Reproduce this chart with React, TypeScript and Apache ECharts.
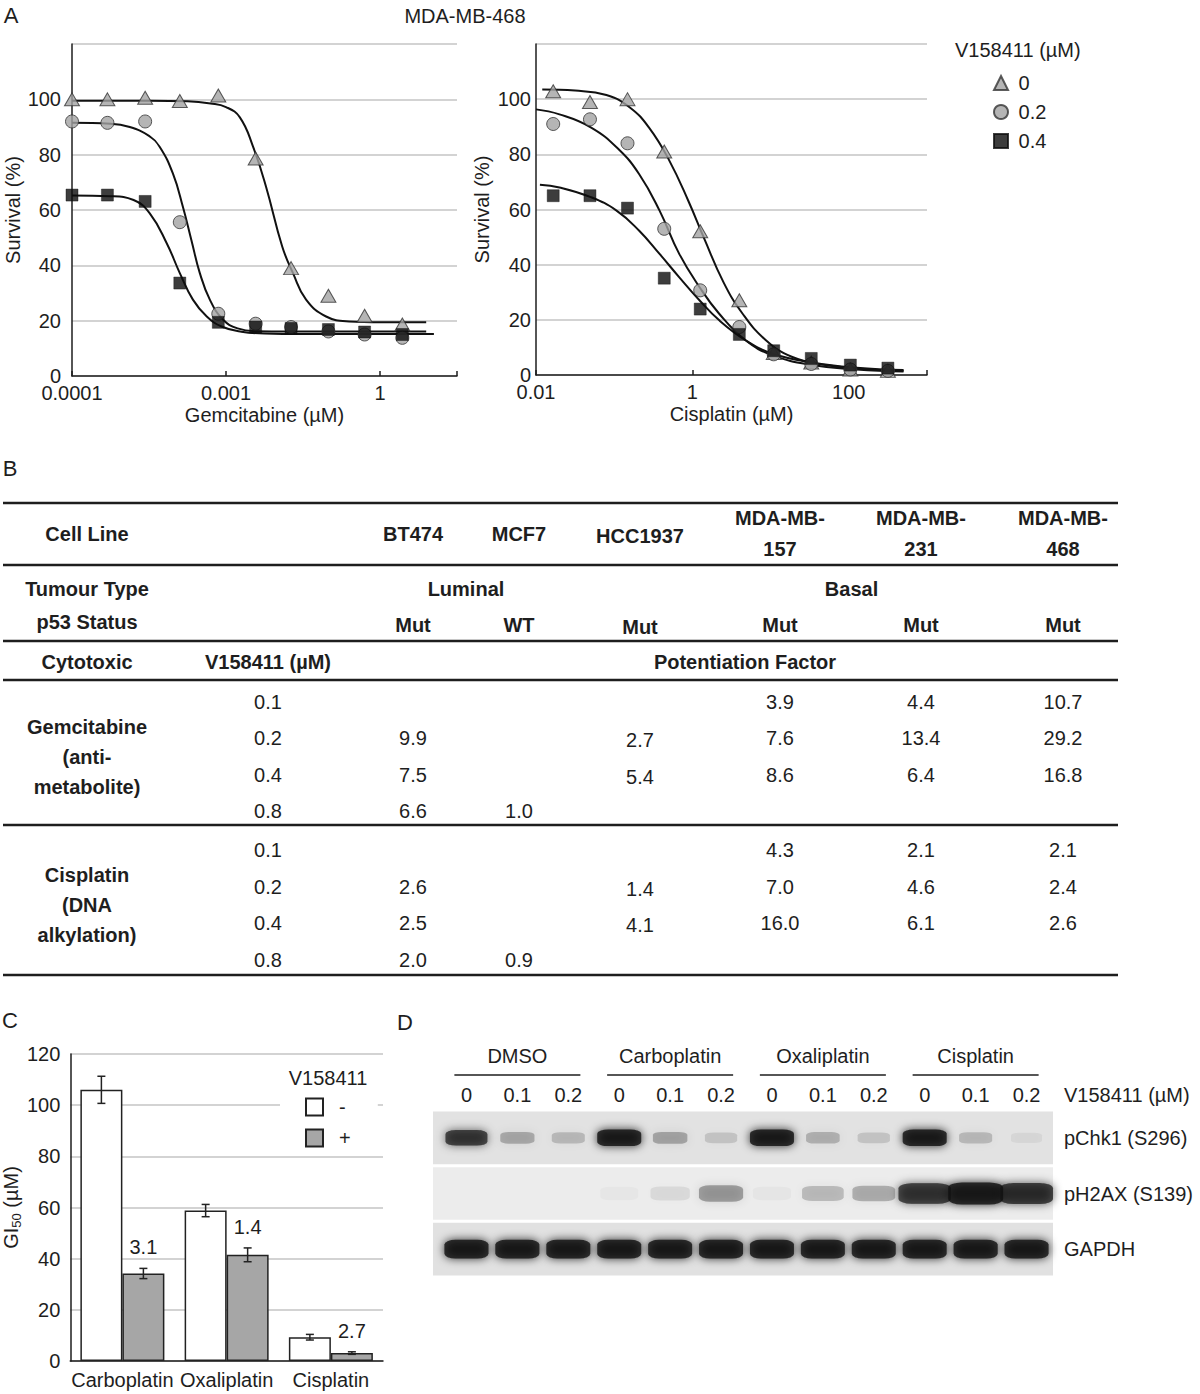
import React, { useEffect, useRef } from 'react';
import * as echarts from 'echarts';

const FONT = '"Liberation Sans", Arial, Helvetica, sans-serif';
const INK = '#1e1e1e';
const GRID_GRAY = '#c4c4c4';
const MARKER_GRAY = '#a2a2a2';

// ---------------- Panel A : MDA-MB-468 survival curves ----------------
const panelATitle = 'MDA-MB-468';
const doseLegendTitle = 'V158411 (µM)';
const doseLevels = ['0', '0.2', '0.4'];
const survivalName = 'Survival (%)';

// tick positions are log10 units on the drawn axis
const gemTickValues = [-4, -2, 0];
const gemTickLabels = ['0.0001', '0.001', '1'];
const cisTickValues = [-2, 0, 2];
const cisTickLabels = ['0.01', '1', '100'];

const gemLogDose = [-4.0, -3.54, -3.05, -2.6, -2.1, -1.615, -1.155, -0.67, -0.2, 0.29];
const gemSurv0 = [100, 100, 100.6, 99.4, 101.4, 78.6, 39, 29, 21.8, 18.6];
const gemSurv02 = [92, 91.5, 92, 55.6, 22.5, 18.9, 17.7, 16.1, 15, 13.8];
const gemSurv04 = [65.4, 65.4, 63.1, 33.6, 19.4, 17.7, 17.2, 16.8, 15.9, 15];

const cisLogDose = [-1.78, -1.31, -0.83, -0.36, 0.1, 0.6, 1.04, 1.52, 2.02, 2.5];
const cisSurv0 = [102.9, 99, 100, 81, 52.1, 27.1, 8, 4.5, 2, 1.5];
const cisSurv02 = [91, 92.7, 84, 53, 30.7, 17.4, 7.5, 4, 2, 1.5];
const cisSurv04 = [65, 65, 60.5, 35.1, 23.9, 14.7, 8.8, 6, 3.6, 2.5];

// fitted curves: [log10 dose, survival %]
const gemFit0 = [[-4.0, 99.5], [-3.0, 99.5], [-2.5, 99.3], [-2.2, 98.5], [-2.0, 97.2], [-1.82, 93.5], [-1.65, 83], [-1.48, 68.4], [-1.27, 46.8], [-1.13, 37.2], [-0.96, 27.6], [-0.7, 21.5], [-0.4, 19.7], [0.0, 19.4], [0.6, 19.4]];
const gemFit02 = [[-4.0, 91.5], [-3.5, 91.2], [-3.25, 90], [-3.0, 86.8], [-2.86, 82.8], [-2.69, 73.2], [-2.56, 61.2], [-2.45, 49.2], [-2.34, 37.2], [-2.21, 27.6], [-2.04, 20.4], [-1.85, 17.2], [-1.6, 16.2], [-1.2, 16.1], [0.6, 16.1]];
const gemFit04 = [[-4.0, 65.2], [-3.5, 65], [-3.2, 63.6], [-2.99, 58.8], [-2.77, 48], [-2.6, 37.2], [-2.43, 27.6], [-2.25, 21.5], [-2.05, 17.8], [-1.8, 16.0], [-1.5, 15.4], [-1.0, 15.2], [0.7, 15.2]];

const cisFit0 = [[-1.92, 103.5], [-1.5, 103.1], [-1.1, 101.5], [-0.8, 97], [-0.55, 89.5], [-0.3, 78], [-0.05, 63], [0.15, 49.5], [0.4, 33.5], [0.64, 22.3], [0.94, 12.6], [1.27, 6.6], [1.7, 3.6], [2.2, 2.2], [2.7, 1.5]];
const cisFit02 = [[-2.0, 96.3], [-1.7, 94.5], [-1.3, 89.8], [-0.95, 82], [-0.68, 72.8], [-0.42, 59.6], [-0.17, 44], [0.09, 31.9], [0.34, 22.3], [0.68, 12.6], [1.02, 7.2], [1.53, 3.6], [2.1, 2], [2.7, 1.3]];
const cisFit04 = [[-1.95, 69], [-1.7, 68], [-1.3, 64.5], [-0.97, 59.6], [-0.68, 52.3], [-0.42, 43.9], [-0.17, 35.5], [0.09, 27.1], [0.34, 19.9], [0.68, 12.6], [1.02, 7.8], [1.53, 4.5], [2.1, 2.6], [2.7, 1.8]];

// ---------------- Panel B : table ----------------
const cellLineNames = ['BT474', 'MCF7', 'HCC1937', 'MDA-MB-\n157', 'MDA-MB-\n231', 'MDA-MB-\n468'];
const tumourGroups = [
  { name: 'Luminal', from: 0, to: 1 },
  { name: 'Basal', from: 2, to: 5 },
];
const p53Status = ['Mut', 'WT', 'Mut', 'Mut', 'Mut', 'Mut'];
const v158Doses = ['0.1', '0.2', '0.4', '0.8'];
const gemPF = [
  ['', '9.9', '7.5', '6.6'],
  ['', '', '', '1.0'],
  ['', '2.7', '5.4', ''],
  ['3.9', '7.6', '8.6', ''],
  ['4.4', '13.4', '6.4', ''],
  ['10.7', '29.2', '16.8', ''],
];
const cisPF = [
  ['', '2.6', '2.5', '2.0'],
  ['', '', '', '0.9'],
  ['', '1.4', '4.1', ''],
  ['4.3', '7.0', '16.0', ''],
  ['2.1', '4.6', '6.1', ''],
  ['2.1', '2.4', '2.6', ''],
];
const drugBlocks = ['Gemcitabine\n(anti-\nmetabolite)', 'Cisplatin\n(DNA\nalkylation)'];

// ---------------- Panel C : GI50 bars ----------------
const barCats = ['Carboplatin', 'Oxaliplatin', 'Cisplatin'];
const gi50Minus = [106, 58.8, 9.3];
const gi50Plus = [34.2, 41.5, 3.1];
const errMinus = [5.3, 2.4, 1.1];
const errPlus = [2.0, 2.7, 0.5];
const potentiation = ['3.1', '1.4', '2.7'];
const barLegend = ['-', '+'];

// ---------------- Panel D : western blot ----------------
const laneGroups = ['DMSO', 'Carboplatin', 'Oxaliplatin', 'Cisplatin'];
const laneDoses = ['0', '0.1', '0.2'];
const blotRows = ['pChk1 (S296)', 'pH2AX (S139)', 'GAPDH'];
const pChk1Int = [0.85, 0.3, 0.22, 1.0, 0.32, 0.16, 1.0, 0.26, 0.16, 1.0, 0.22, 0.07];
const pH2AXInt = [0, 0, 0, 0.03, 0.1, 0.38, 0.04, 0.24, 0.3, 0.85, 1.0, 0.88];
const gapdhInt = [1, 1, 1, 1, 1, 1, 1, 1, 1, 1, 1, 1];

// ---------------- layout ----------------
const A_LEFT = { left: 72, top: 44, width: 385, height: 332 };
const A_RIGHT = { left: 536, top: 44, width: 391, height: 331 };
const C_GRID = { left: 69, top: 1054, width: 314, height: 307 };
const D_GRID = { left: 441, top: 1110, width: 611, height: 167 };
const BAR_W = 42;

function label(text: string, x: number, y: number, size = 20, weight = 'normal', align = 'center', lineHeight?: number) {
  const style: any = {
    text, x, y,
    font: `${weight} ${size}px ${FONT}`,
    fill: INK,
    textAlign: align, textVerticalAlign: 'middle',
    align, verticalAlign: 'middle',
  };
  if (lineHeight) style.lineHeight = lineHeight;
  return { type: 'text', silent: true, z: 100, style };
}

function hline(x1: number, x2: number, y: number, w = 2.5) {
  return { type: 'line', silent: true, z: 100, shape: { x1, y1: y, x2, y2: y }, style: { stroke: INK, lineWidth: w } };
}

function buildGraphics() {
  const g: any[] = [];
  g.push(label('A', 11, 15, 22));
  g.push(label('B', 10, 468, 22));
  g.push(label('C', 10, 1020, 22));
  g.push(label('D', 405, 1022, 22));
  g.push(label(panelATitle, 465, 16, 20));
  g.push(label(doseLegendTitle, 955, 50, 20, 'normal', 'left'));
  g.push(label('V158411', 328, 1078, 20));

  // ---- table ----
  const colX = [413, 519, 640, 780, 921, 1063];
  const ruleY = [503, 565, 641, 680, 825, 975];
  ruleY.forEach((y) => g.push(hline(3, 1118, y)));
  g.push(label('Cell Line', 87, 534, 20, 'bold'));
  cellLineNames.forEach((n, i) => g.push(label(n, colX[i], n.includes('\n') ? 533 : i === 2 ? 536 : 534, 20, 'bold', 'center', 31)));
  g.push(label('Tumour Type', 87, 589, 20, 'bold'));
  tumourGroups.forEach((t) => g.push(label(t.name, (colX[t.from] + colX[t.to]) / 2, 589, 20, 'bold')));
  g.push(label('p53 Status', 87, 622, 20, 'bold'));
  p53Status.forEach((s, i) => g.push(label(s, colX[i], i === 2 ? 627 : 625, 20, 'bold')));
  g.push(label('Cytotoxic', 87, 662, 20, 'bold'));
  g.push(label('V158411 (µM)', 268, 662, 20, 'bold'));
  g.push(label('Potentiation Factor', 745, 662, 20, 'bold'));
  const sections = [
    { top: 701.5, block: drugBlocks[0], vals: gemPF },
    { top: 850, block: drugBlocks[1], vals: cisPF },
  ];
  sections.forEach((s) => {
    g.push(label(s.block, 87, s.top + 55, 20, 'bold', 'center', 30));
    v158Doses.forEach((d, r) => {
      const y = s.top + r * 36.5;
      g.push(label(d, 268, y, 20));
      s.vals.forEach((col, c) => {
        if (col[r]) g.push(label(col[r], colX[c], c === 2 ? y + 2 : y, 20));
      });
    });
  });

  // ---- blot decorations ----
  const laneW = D_GRID.width / 12;
  const rowH = D_GRID.height / 3;
  const bgFill = ['#e2e2e2', '#ececec', '#e1e1e1'];
  blotRows.forEach((_, r) => {
    g.push({
      type: 'rect', silent: true, z: 0,
      shape: { x: 433, y: D_GRID.top + r * rowH + 1.5, width: 620, height: rowH - 3 },
      style: { fill: bgFill[r] },
    });
  });
  laneGroups.forEach((_, k) => {
    const cx = D_GRID.left + (3 * k + 1.5) * laneW;
    g.push(hline(cx - 63, cx + 63, 1075, 1.5));
  });
  g.push(label('V158411 (µM)', 1064, 1095, 20, 'normal', 'left'));
  return g;
}

function tickFmt(values: number[], labels: string[]) {
  return (v: number) => {
    const i = values.findIndex((t) => Math.abs(t - v) < 1e-6);
    return i >= 0 ? labels[i] : '';
  };
}

function buildOption() {
  const axisLine = { show: true, onZero: false, lineStyle: { color: INK, width: 1.5 } };
  const splitLine = { show: true, lineStyle: { color: GRID_GRAY, width: 1.5 } };
  const txt = { color: INK, fontSize: 20, fontFamily: FONT };

  const markerDefs = [
    { symbol: 'triangle', symbolSize: [15, 13], itemStyle: { color: MARKER_GRAY, borderColor: '#333', borderWidth: 1 } },
    { symbol: 'circle', symbolSize: 13, itemStyle: { color: MARKER_GRAY, borderColor: '#333', borderWidth: 1 } },
    { symbol: 'rect', symbolSize: 12, itemStyle: { color: '#0c0c0c', borderColor: '#0c0c0c', borderWidth: 0.5 } },
  ];

  const panels = [
    { dose: gemLogDose, surv: [gemSurv0, gemSurv02, gemSurv04], fits: [gemFit0, gemFit02, gemFit04] },
    { dose: cisLogDose, surv: [cisSurv0, cisSurv02, cisSurv04], fits: [cisFit0, cisFit02, cisFit04] },
  ];

  const series: any[] = [];
  panels.forEach((p, pi) => {
    p.fits.forEach((fit, k) => {
      series.push({
        name: `fit-${pi}-${k}`, type: 'line', xAxisIndex: pi, yAxisIndex: pi,
        data: fit, showSymbol: false, smooth: 0.45,
        lineStyle: { color: '#111', width: 2 }, z: 2, silent: true, clip: false,
      });
    });
    p.surv.forEach((vals, k) => {
      series.push({
        name: doseLevels[k], type: 'scatter', xAxisIndex: pi, yAxisIndex: pi,
        data: p.dose.map((x, i) => [x, vals[i]]),
        ...markerDefs[k], z: 4, silent: true, clip: false,
      });
    });
  });

  // Panel C bars
  series.push({
    name: barLegend[0], type: 'bar', xAxisIndex: 2, yAxisIndex: 2, data: gi50Minus,
    barWidth: BAR_W, barGap: '0%', itemStyle: { color: '#ffffff', borderColor: '#222', borderWidth: 1.5 }, silent: true,
  });
  series.push({
    name: barLegend[1], type: 'bar', xAxisIndex: 2, yAxisIndex: 2, data: gi50Plus,
    barWidth: BAR_W, barGap: '0%', itemStyle: { color: '#a6a6a6', borderColor: '#222', borderWidth: 1.5 }, silent: true,
  });
  const errSeries = (means: number[], errs: number[], side: number) => ({
    name: `err${side}`, type: 'custom', xAxisIndex: 2, yAxisIndex: 2, z: 6, silent: true,
    data: means.map((m, i) => [i, m, errs[i]]),
    renderItem: (params: any, api: any) => {
      const i = api.value(0), m = api.value(1), e = api.value(2);
      const hi = api.coord([i, m + e]);
      const lo = api.coord([i, m - e]);
      const x = hi[0] + (side * BAR_W) / 2;
      const st = { stroke: '#222', lineWidth: 1.5 };
      return {
        type: 'group',
        children: [
          { type: 'line', shape: { x1: x, y1: hi[1], x2: x, y2: lo[1] }, style: st },
          { type: 'line', shape: { x1: x - 4, y1: hi[1], x2: x + 4, y2: hi[1] }, style: st },
          { type: 'line', shape: { x1: x - 4, y1: lo[1], x2: x + 4, y2: lo[1] }, style: st },
        ],
      };
    },
  });
  series.push(errSeries(gi50Minus, errMinus, -1));
  series.push(errSeries(gi50Plus, errPlus, 1));
  series.push({
    name: 'pf', type: 'custom', xAxisIndex: 2, yAxisIndex: 2, z: 7, silent: true,
    data: gi50Plus.map((m, i) => [i, m + errPlus[i]]),
    renderItem: (params: any, api: any) => {
      const c = api.coord([api.value(0), api.value(1)]);
      return {
        type: 'text',
        style: {
          text: potentiation[params.dataIndex], x: c[0] + BAR_W / 2, y: c[1] - 21,
          font: `20px ${FONT}`, fill: INK,
          textAlign: 'center', textVerticalAlign: 'middle', align: 'center', verticalAlign: 'middle',
        },
      };
    },
  });

  // Panel D blot bands
  const rowInts = [pChk1Int, pH2AXInt, gapdhInt];
  const rowBase = [[40, 15], [50, 20], [40, 17]];
  const bands: any[] = [];
  rowInts.forEach((ints, r) => {
    ints.forEach((I, l) => {
      if (I < 0.01) return;
      const a = Math.min(1, I);
      const col = `rgba(14,14,14,${a.toFixed(2)})`;
      bands.push({
        value: [l, r],
        symbolSize: [rowBase[r][0] * (0.75 + 0.35 * I), rowBase[r][1] * (0.65 + 0.45 * I)],
        itemStyle: { color: col, shadowBlur: 10, shadowColor: col },
      });
    });
  });
  series.push({
    name: 'blot', type: 'scatter', xAxisIndex: 3, yAxisIndex: 3, symbol: 'roundRect',
    data: bands, z: 10, silent: true,
  });

  const laneLabels = laneGroups.flatMap(() => laneDoses);

  return {
    animation: false,
    backgroundColor: '#ffffff',
    textStyle: { fontFamily: FONT, color: INK },
    grid: [
      { ...A_LEFT, containLabel: false },
      { ...A_RIGHT, containLabel: false },
      { ...C_GRID, containLabel: false },
      { ...D_GRID, containLabel: false },
    ],
    legend: [
      {
        data: doseLevels.map((n, k) => ({ name: n, icon: ['triangle', 'circle', 'rect'][k] })),
        orient: 'vertical', left: 993, top: 73, itemWidth: 14, itemHeight: 14, itemGap: 9, padding: 0,
        textStyle: { ...txt }, formatter: (n: string) => ' ' + n, selectedMode: false,
      },
      {
        data: barLegend.map((n) => ({ name: n, icon: 'rect' })),
        orient: 'vertical', left: 280, top: 1093, itemWidth: 17, itemHeight: 17, itemGap: 11,
        padding: [4, 27, 4, 25], backgroundColor: '#ffffff',
        textStyle: { ...txt }, formatter: (n: string) => '  ' + n, selectedMode: false,
      },
    ],
    xAxis: [
      {
        gridIndex: 0, type: 'value', min: -4, max: 1, interval: 2,
        axisLine, axisTick: { show: true, inside: true, length: 5, lineStyle: { color: INK, width: 1.5 } },
        splitLine: { show: false },
        axisLabel: { ...txt, margin: 7, formatter: tickFmt(gemTickValues, gemTickLabels) },
        name: 'Gemcitabine (µM)', nameLocation: 'middle', nameGap: 29, nameTextStyle: { ...txt },
      },
      {
        gridIndex: 1, type: 'value', min: -2, max: 3, interval: 2,
        axisLine, axisTick: { show: true, inside: true, length: 5, lineStyle: { color: INK, width: 1.5 } },
        splitLine: { show: false },
        axisLabel: { ...txt, margin: 7, formatter: tickFmt(cisTickValues, cisTickLabels) },
        name: 'Cisplatin (µM)', nameLocation: 'middle', nameGap: 29, nameTextStyle: { ...txt },
      },
      {
        gridIndex: 2, type: 'category', data: barCats,
        axisLine, axisTick: { show: false },
        axisLabel: { ...txt, margin: 9, interval: 0, hideOverlap: false },
      },
      {
        gridIndex: 3, type: 'category', data: laneLabels, position: 'top',
        axisLine: { show: false }, axisTick: { show: false },
        axisLabel: { ...txt, margin: 5, interval: 0 },
      },
      {
        gridIndex: 3, type: 'category', data: laneGroups, position: 'top', offset: 40,
        axisLine: { show: false }, axisTick: { show: false },
        axisLabel: { ...txt, margin: 4, interval: 0 },
      },
    ],
    yAxis: [
      {
        gridIndex: 0, type: 'value', min: 0, max: 120, interval: 20,
        axisLine, axisTick: { show: false }, splitLine,
        axisLabel: { ...txt, margin: 11, formatter: (v: number) => (v >= 120 ? '' : String(v)) },
        name: survivalName, nameLocation: 'middle', nameGap: 49, nameTextStyle: { ...txt },
      },
      {
        gridIndex: 1, type: 'value', min: 0, max: 120, interval: 20,
        axisLine, axisTick: { show: false }, splitLine,
        axisLabel: { ...txt, margin: 5, formatter: (v: number) => (v >= 120 ? '' : String(v)) },
        name: survivalName, nameLocation: 'middle', nameGap: 44, nameTextStyle: { ...txt },
      },
      {
        gridIndex: 2, type: 'value', min: 0, max: 120, interval: 20,
        axisLine, axisTick: { show: false }, splitLine,
        axisLabel: { ...txt, margin: 10 },
        name: '{a|GI}{s|50}{a| (µM)}', nameLocation: 'middle', nameGap: 46,
        nameTextStyle: {
          ...txt,
          rich: {
            a: { fontSize: 20, fontFamily: FONT, color: INK, lineHeight: 24, verticalAlign: 'middle' },
            s: { fontSize: 13, fontFamily: FONT, color: INK, lineHeight: 24, verticalAlign: 'bottom' },
          },
        },
      },
      {
        gridIndex: 3, type: 'category', data: blotRows, inverse: true, position: 'right',
        axisLine: { show: false }, axisTick: { show: false }, splitLine: { show: false },
        axisLabel: { ...txt, margin: 12, align: 'left' },
      },
    ],
    graphic: { elements: buildGraphics() },
    series,
  };
}

export default function App() {
  const ref = useRef<HTMLDivElement>(null);
  useEffect(() => {
    if (!ref.current) return;
    const chart = echarts.init(ref.current, null, { renderer: 'svg' });
    chart.setOption(buildOption() as any);
    return () => chart.dispose();
  }, []);
  return (
    <div
      ref={ref}
      style={{ position: 'absolute', left: 0, top: 0, width: 1200, height: 1394, background: '#ffffff' }}
    />
  );
}
